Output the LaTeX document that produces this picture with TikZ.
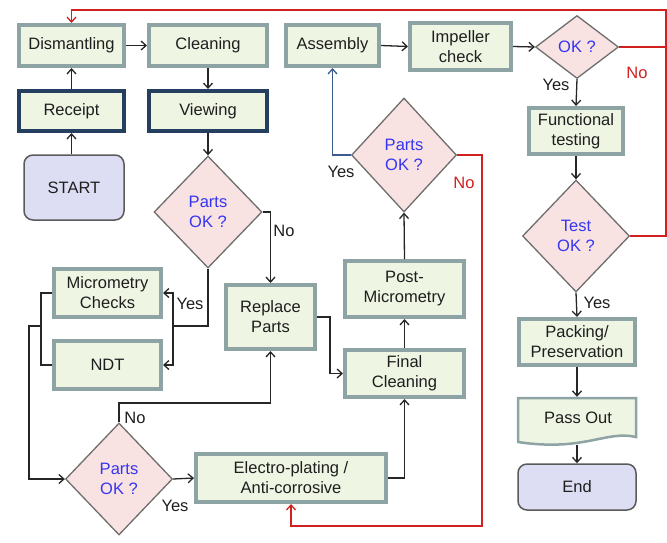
\documentclass[tikz,border=0pt]{standalone}
\usepackage{fontspec}
\setmainfont{Liberation Sans}
\usetikzlibrary{shapes.geometric,arrows.meta}
\definecolor{boxfill}{HTML}{EEF5E3}
\definecolor{boxline}{HTML}{8DA3A4}
\definecolor{navy}{HTML}{243F60}
\definecolor{termfill}{HTML}{DDDEF3}
\definecolor{termline}{HTML}{5A5A5A}
\definecolor{decfill}{HTML}{F8E2E2}
\definecolor{decline}{HTML}{6E6E6E}
\definecolor{dectext}{HTML}{3535F0}
\definecolor{conn}{HTML}{262626}
\definecolor{txt}{HTML}{1E1E1E}
\definecolor{redline}{HTML}{D02020}
\definecolor{blueline}{HTML}{3B5B8C}
\begin{document}
\begin{tikzpicture}[x=1pt,y=-1pt,
  every node/.style={font=\fontsize{16.5}{20}\selectfont, text=txt, align=center, inner sep=0pt},
  box/.style={draw=boxline, fill=boxfill, line width=4pt, rectangle},
  navybox/.style={box, draw=navy},
  term/.style={draw=termline, fill=termfill, line width=1.5pt, rounded corners=9pt, rectangle},
  dec/.style={diamond, draw=decline, fill=decfill, line width=1.3pt, text=dectext},
  arr/.style={line width=1.3pt, draw=conn, -{Straight Barb[length=5pt,width=9pt]}},
  ln/.style={line width=1.3pt, draw=conn},
  redarr/.style={arr, draw=redline},
  redln/.style={ln, draw=redline},
  bluearr/.style={arr, draw=blueline},
  lab/.style={text=txt},
  redlab/.style={text=redline}
]
\useasboundingbox (0,0) rectangle (667,542);

% boxes
\node[box, minimum width=105pt, minimum height=41pt] (dis) at (71.5,45.5) {Dismantling};
\node[box, minimum width=118pt, minimum height=41pt] (cle) at (208,45.5) {Cleaning};
\node[navybox, minimum width=105pt, minimum height=40pt] (rec) at (71.5,111) {Receipt};
\node[navybox, minimum width=118pt, minimum height=40pt] (vie) at (208,111) {Viewing};
\node[term, minimum width=100pt, minimum height=65pt] (start) at (74,187.5) {START};

\node[dec, minimum width=108pt, minimum height=112pt] (d1) at (208,212) {Parts\\OK ?};
\node[box, minimum width=107pt, minimum height=48pt] (mic) at (107.5,293) {Micrometry\\Checks};
\node[box, minimum width=107pt, minimum height=48pt] (ndt) at (107.5,365) {NDT};
\node[box, minimum width=89pt, minimum height=64pt] (rep) at (270.5,317) {Replace\\Parts};
\node[dec, minimum width=107pt, minimum height=112pt] (d2) at (119,479) {Parts\\OK ?};
\node[box, minimum width=190pt, minimum height=48pt] (ele) at (291,478) {Electro-plating /\\Anti-corrosive};
\node[box, minimum width=119pt, minimum height=47pt] (fin) at (404.5,373.5) {Final\\Cleaning};
\node[box, minimum width=119pt, minimum height=56pt] (pos) at (404.5,289) {Post-\\Micrometry};
\node[dec, minimum width=105pt, minimum height=114pt] (d3) at (404,155) {Parts\\OK ?};
\node[box, minimum width=93pt, minimum height=41pt] (ass) at (332.5,45.5) {Assembly};
\node[box, minimum width=101pt, minimum height=47pt] (imp) at (460.5,46.5) {Impeller\\check};
\node[dec, minimum width=83pt, minimum height=63pt] (d4) at (577,47) {OK ?};
\node[box, minimum width=94pt, minimum height=46pt] (fun) at (576,131) {Functional\\testing};
\node[dec, minimum width=107pt, minimum height=112pt] (d5) at (576,236) {Test\\OK ?};
\node[box, minimum width=116pt, minimum height=46pt] (pac) at (577,342) {Packing/\\Preservation};
\fill[boxfill] (518,398) -- (636,398) -- (636,437) .. controls (606,430) and (584,452) .. (518,442) -- cycle;
\draw[boxline, line width=2.5pt] (518,398) -- (636,398) -- (636,437) .. controls (606,430) and (584,452) .. (518,442) -- cycle;
\node[minimum width=118pt, minimum height=48pt] (pas) at (577,421) {};
\node (pastext) at (578,418) {Pass Out};
\node[term, minimum width=118pt, minimum height=46pt] (end) at (577,487) {End};

% coordinates
\coordinate (yj) at (173,326);
\coordinate (lj) at (41,326);
\coordinate (lk) at (29,326);
\coordinate (nj) at (119,403);
\coordinate (rb) at (482,526);
\coordinate (tr) at (666,10);
\coordinate (rj) at (666,47);

% connectors
\draw[arr] (start.north -| rec.south) -- (rec.south);
\draw[arr] (rec.north) -- (dis.south);
\draw[arr] (dis.east) -- (cle.west);
\draw[arr] (cle.south) -- (vie.north);
\draw[arr] (vie.south) -- (d1.north);
\draw[arr] (d1.east) -| (rep.north);
\draw[ln] (d1.south) |- (yj);
\draw[arr] (yj) |- (mic.east);
\draw[arr] (yj) |- (ndt.east);
\draw[ln] (mic.west) -| (lj);
\draw[ln] (ndt.west) -| (lj);
\draw[arr] (lj) -- (lk) |- (d2.west);
\draw[arr] (d2.north) -- (nj) -| (rep.south);
\draw[arr] (d2.east) -- (ele.west);
\draw[arr] (ele.east) -| (fin.south);
\draw[arr] (rep.east) -- ++(13,0) |- (fin.west);
\draw[arr] (fin.north) -- (pos.south);
\draw[arr] (pos.north) -- (d3.south);
\draw[bluearr] (d3.west) -| (ass.south);
\draw[redarr] (d3.east) -| (rb) -| (ele.south);
\draw[arr] (ass.east) -- (imp.west);
\draw[arr] (imp.east) -- (d4.west);
\draw[redarr] (d4.east) -| (tr) -| (dis.north);
\draw[redln] (d5.east) -| (rj);
\draw[arr] (d4.south) -- (fun.north);
\draw[arr] (fun.south) -- (d5.north);
\draw[arr] (d5.south) -- (pac.north);
\draw[arr] (pac.south) -- (pas.north);
\draw[arr] (pas.south) -- (end.north);

% labels
\node[lab] (l1) at (284,231) {No};
\node[lab] (l2) at (190,304) {Yes};
\node[lab] (l3) at (135,418) {No};
\node[lab] (l4) at (175,506) {Yes};
\node[lab] (l5) at (341,172) {Yes};
\node[redlab] (l6) at (464,183) {No};
\node[redlab] (l7) at (637,73) {No};
\node[lab] (l8) at (556,85) {Yes};
\node[lab] (l9) at (597,303) {Yes};
\end{tikzpicture}
\end{document}
